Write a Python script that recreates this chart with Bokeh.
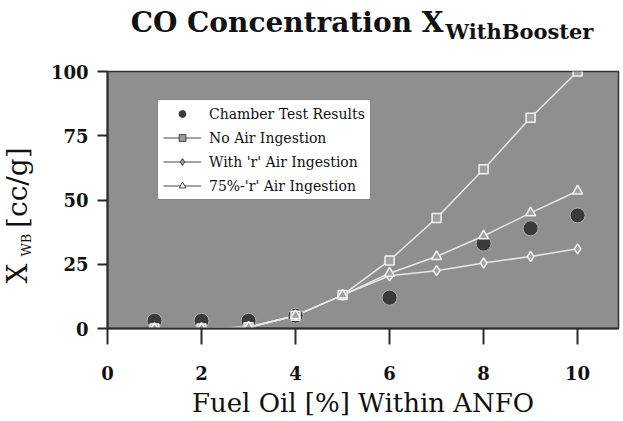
from bokeh.plotting import figure
from bokeh.models import Legend, LegendItem, Range1d, FixedTicker, ColumnDataSource, Title
from bokeh.embed import file_html
from bokeh.resources import INLINE

# ---- data ----
fuel_oil = [1, 2, 3, 4, 5, 6, 7, 8, 9, 10]
no_air = [0, 0, 0.5, 5, 13, 26.5, 43, 62, 82, 100]
with_r = [0, 0, 0.5, 5, 13, 20.5, 22.5, 25.5, 28, 31]
r75 = [0, 0, 0.5, 5, 13, 21.5, 28, 36, 45, 53.5]
chamber_x = [1, 2, 3, 4, 6, 8, 9, 10]
chamber_y = [3, 3, 3, 5, 12, 33, 39, 44]
x_ticks = [0, 2, 4, 6, 8, 10]
y_ticks = [0, 25, 50, 75, 100]

FONT = "DejaVu Serif"
BG = "#8f8f8f"
LINE = "#e6e6e6"
DARK = "#2a2a2a"
TXT = "#111111"

p = figure(width=623, height=421, output_backend="svg", toolbar_location=None,
           x_range=Range1d(0, 10.87), y_range=Range1d(0, 100),
           min_border_left=107, min_border_right=5, min_border_top=71, min_border_bottom=93)
p.background_fill_color = BG
p.border_fill_color = "white"
p.outline_line_color = "#333333"
p.outline_line_width = 1.5
p.grid.visible = False

for ax in (p.xaxis[0], p.yaxis[0]):
    ax.axis_line_color = DARK
    ax.axis_line_width = 2
    ax.major_tick_line_color = DARK
    ax.major_tick_line_width = 2
    ax.major_tick_in = 0
    ax.minor_tick_line_color = None
    ax.major_label_text_font = FONT
    ax.major_label_text_font_style = "bold"
    ax.major_label_text_font_size = "18px"
    ax.major_label_text_color = TXT
p.xaxis[0].ticker = FixedTicker(ticks=x_ticks)
p.yaxis[0].ticker = FixedTicker(ticks=y_ticks)
p.xaxis[0].major_tick_out = 16
p.xaxis[0].major_label_standoff = 21
p.yaxis[0].major_tick_out = 10
p.yaxis[0].major_label_standoff = 9
p.xaxis[0].axis_label = "Fuel Oil [%] Within ANFO"
p.xaxis[0].axis_label_text_font = FONT
p.xaxis[0].axis_label_text_font_style = "normal"
p.xaxis[0].axis_label_text_font_size = "26px"
p.xaxis[0].axis_label_text_color = TXT
p.xaxis[0].axis_label_standoff = 5

src = ColumnDataSource(dict(x=fuel_oil, no_air=no_air, with_r=with_r, r75=r75))
csrc = ColumnDataSource(dict(x=chamber_x, y=chamber_y))

# visible series
p.line("x", "no_air", source=src, line_color=LINE, line_width=1.5)
p.line("x", "with_r", source=src, line_color=LINE, line_width=1.5)
p.line("x", "r75", source=src, line_color=LINE, line_width=1.5)
p.scatter("x", "y", source=csrc, marker="circle", size=15, fill_color="#3a3a3a",
          line_color="#b0b0b0", line_width=1)
p.scatter("x", "no_air", source=src, marker="square", size=9, fill_color="#a0a0a0",
          line_color="#f2f2f2", line_width=1.5)
p.scatter("x", "with_r", source=src, marker="diamond", size=10, fill_color="#a0a0a0",
          line_color="#f2f2f2", line_width=1.5)
p.scatter("x", "r75", source=src, marker="triangle", size=10, fill_color="#a0a0a0",
          line_color="#f2f2f2", line_width=1.5)

# legend-only (dark on white) renderers
lg = "#444444"
l_c = p.scatter("x", "y", source=csrc, marker="circle", size=13, fill_color="#3a3a3a", line_color="#3a3a3a", visible=False)
l_n1 = p.line("x", "no_air", source=src, line_color=lg, line_width=1.2, visible=False)
l_n2 = p.scatter("x", "no_air", source=src, marker="square", size=8, fill_color="#9a9a9a", line_color=lg, visible=False)
l_w1 = p.line("x", "with_r", source=src, line_color=lg, line_width=1.2, visible=False)
l_w2 = p.scatter("x", "with_r", source=src, marker="diamond", size=9, fill_color="#9a9a9a", line_color=lg, visible=False)
l_t1 = p.line("x", "r75", source=src, line_color=lg, line_width=1.2, visible=False)
l_t2 = p.scatter("x", "r75", source=src, marker="triangle", size=9, fill_color="white", line_color=lg, visible=False)

legend = Legend(items=[
    LegendItem(label="Chamber Test Results", renderers=[l_c]),
    LegendItem(label="No Air Ingestion", renderers=[l_n1, l_n2]),
    LegendItem(label="With 'r' Air Ingestion", renderers=[l_w1, l_w2]),
    LegendItem(label="75%-'r' Air Ingestion", renderers=[l_t1, l_t2]),
], location=(50, 128))
legend.label_text_font = FONT
legend.label_text_font_size = "14px"
legend.label_text_color = TXT
legend.border_line_color = TXT
legend.border_line_width = 1.5
legend.background_fill_color = "white"
legend.background_fill_alpha = 1
legend.padding = 5
legend.margin = 0
legend.spacing = 7
legend.glyph_width = 38
legend.glyph_height = 17
legend.label_height = 17
legend.label_standoff = 8
legend.click_policy = "none"
p.add_layout(legend, "center")

# ---- title (main text + lowered subscript), stacked outward from the frame ----
p.add_layout(Title(text=" ", text_font_size="1px", standoff=25), "above")
p.add_layout(Title(text="WithBooster", text_font=FONT, text_font_style="bold",
                   text_font_size="21px", text_color=TXT, align="left", offset=338,
                   vertical_align="bottom", standoff=0), "above")
p.add_layout(Title(text="CO Concentration X", text_font=FONT, text_font_style="bold",
                   text_font_size="28px", text_color=TXT, align="right", offset=175,
                   vertical_align="bottom", standoff=-44), "above")

# ---- y axis label: X_WB [cc/g] ----
p.add_layout(Title(text="WB", text_font=FONT, text_font_style="normal",
                   text_font_size="13px", text_color=TXT, align="left", offset=72,
                   vertical_align="bottom", standoff=26.6), "left")
p.add_layout(Title(text="X\u00a0\u00a0\u00a0\u00a0[cc/g]", text_font=FONT, text_font_style="normal",
                   text_font_size="28px", text_color=TXT, align="left", offset=45,
                   vertical_align="bottom", standoff=-61.8), "left")

open("out.html", "w").write(file_html(p, INLINE))
